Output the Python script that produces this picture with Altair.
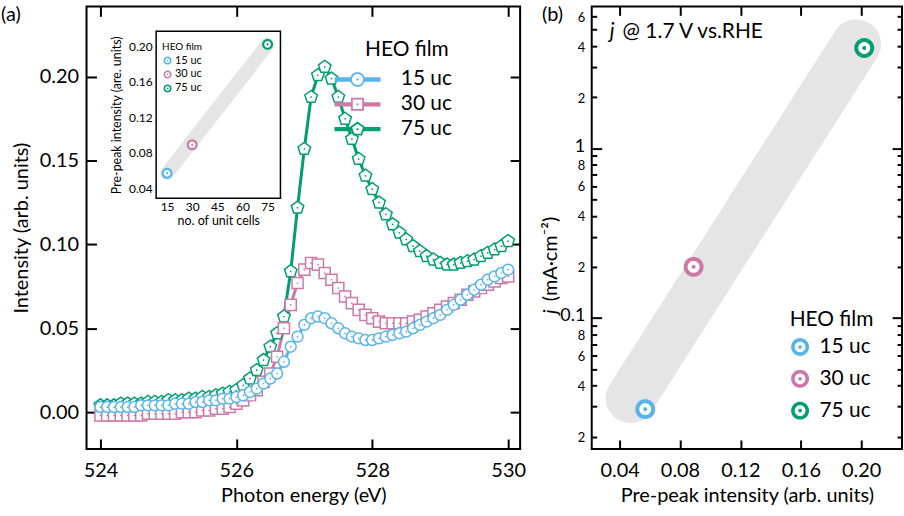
import altair as alt
import pandas as pd
import numpy as np

FONT = "Lato"

# ---------------- data ----------------
energy = [524.0, 524.1, 524.2, 524.3, 524.4, 524.5, 524.6, 524.7, 524.8, 524.9,
          525.0, 525.1, 525.2, 525.3, 525.4, 525.5, 525.6, 525.7, 525.8, 525.9,
          526.0, 526.1, 526.2, 526.3, 526.4, 526.5, 526.6, 526.7, 526.8, 526.9,
          527.0, 527.1, 527.2, 527.3, 527.4, 527.5, 527.6, 527.7, 527.8, 527.9,
          528.0, 528.1, 528.2, 528.3, 528.4, 528.5, 528.6, 528.7, 528.8, 528.9,
          529.0, 529.1, 529.2, 529.3, 529.4, 529.5, 529.6, 529.7, 529.8, 529.9,
          530.0]
int_15uc = [0.003, 0.003, 0.003, 0.003, 0.003, 0.003, 0.004, 0.004, 0.004, 0.004,
            0.004, 0.005, 0.005, 0.005, 0.006, 0.006, 0.007, 0.007, 0.008, 0.008,
            0.009, 0.010, 0.012, 0.014, 0.017, 0.020, 0.023, 0.030, 0.039, 0.045,
            0.052, 0.056, 0.057, 0.056, 0.053, 0.050, 0.047, 0.045, 0.044, 0.043,
            0.043, 0.044, 0.045, 0.046, 0.047, 0.048, 0.050, 0.052, 0.054, 0.056,
            0.058, 0.061, 0.064, 0.067, 0.070, 0.073, 0.076, 0.079, 0.081, 0.083,
            0.085]
int_30uc = [-0.002, -0.002, -0.002, -0.002, -0.002, -0.002, -0.002, -0.001, -0.001, -0.001,
            -0.001, -0.001, 0.000, 0.000, 0.000, 0.001, 0.001, 0.002, 0.002, 0.003,
            0.005, 0.007, 0.010, 0.013, 0.018, 0.023, 0.033, 0.050, 0.064, 0.077,
            0.085, 0.089, 0.088, 0.083, 0.079, 0.074, 0.069, 0.065, 0.061, 0.058,
            0.056, 0.054, 0.053, 0.053, 0.053, 0.053, 0.054, 0.055, 0.057, 0.059,
            0.061, 0.063, 0.065, 0.067, 0.070, 0.072, 0.074, 0.076, 0.078, 0.080,
            0.081]
int_75uc = [0.004, 0.004, 0.004, 0.005, 0.005, 0.005, 0.005, 0.006, 0.006, 0.006,
            0.007, 0.007, 0.007, 0.008, 0.008, 0.009, 0.009, 0.010, 0.011, 0.012,
            0.013, 0.016, 0.020, 0.025, 0.031, 0.039, 0.047, 0.057, 0.084, 0.122,
            0.157, 0.188, 0.201, 0.206, 0.199, 0.188, 0.175, 0.163, 0.151, 0.141,
            0.133, 0.125, 0.118, 0.112, 0.107, 0.103, 0.099, 0.096, 0.093, 0.091,
            0.089, 0.088, 0.088, 0.089, 0.090, 0.091, 0.093, 0.095, 0.097, 0.099,
            0.102]
films = ["15 uc", "30 uc", "75 uc"]
film_colors = ["#56B4E9", "#CC79A7", "#009E73"]

unit_cells = [15, 30, 75]
prepeak = [0.057, 0.089, 0.202]
j_current = [0.029, 0.20, 3.9]

# grey guide bands (end points)
inset_band_x = [15, 75]
inset_band_y = [0.057, 0.202]
b_band_x = [0.0472, 0.1967]
b_band_y = [0.0336, 4.11]

# axis domains and ticks
xa_dom = [523.795, 530.176]
ya_dom = [-0.022, 0.2421]
xi_dom = [8.46, 82.7]
yi_dom = [0.0288, 0.2168]
xb_dom = [0.02156, 0.227]
yb_dom = [0.0169, 6.86]
xa_ticks = [524, 526, 528, 530]
ya_ticks = [0.0, 0.05, 0.10, 0.15, 0.20]
xi_ticks = [15, 30, 45, 60, 75]
yi_ticks = [0.04, 0.08, 0.12, 0.16, 0.20]
xb_ticks = [0.04, 0.08, 0.12, 0.16, 0.20]
yb_ticks = [0.02, 0.03, 0.04, 0.05, 0.06, 0.07, 0.08, 0.09,
            0.1, 0.2, 0.3, 0.4, 0.5, 0.6, 0.7, 0.8, 0.9,
            1, 2, 3, 4, 5, 6]

# ---------------- layout ----------------
WA, HA = 436, 445
WB, HB = 312, 445
IX0, IX1, IY0, IY1 = 70, 195, 25, 193   # inset box inside panel (a), pixels


# ---------------- symbol paths ----------------
def _poly(pts, solid=True):
    area = 0.0
    n = len(pts)
    for k in range(n):
        x1, y1 = pts[k]
        x2, y2 = pts[(k + 1) % n]
        area += x1 * y2 - x2 * y1
    if (area > 0) != solid:
        pts = pts[::-1]
    return "M" + "L".join(f"{x:.3f},{y:.3f}" for x, y in pts) + "Z"


def _circle(r, n=40):
    return [(r * np.cos(2 * np.pi * k / n), r * np.sin(2 * np.pi * k / n)) for k in range(n)]


def _pent(r):
    return [(r * np.cos(np.radians(a)), r * np.sin(np.radians(a))) for a in (-90, -18, 54, 126, 198)]


def _square(h):
    return [(-h, -h), (h, -h), (h, h), (-h, h)]


def _rect(x0, x1, y0, y1):
    return [(x0, y0), (x1, y0), (x1, y1), (x0, y1)]


RING = _poly(_circle(1.0)) + _poly(_circle(0.6), False) + _poly(_circle(0.2, 20))
PENT = _poly(_pent(1.0))


def _legend_path(outer, inner, bar_end):
    return (_poly(_rect(-3.3, -bar_end, -0.31, 0.31)) + _poly(_rect(bar_end, 3.3, -0.31, 0.31))
            + _poly(outer) + _poly(inner, False) + _poly(_circle(0.16, 16)))


LEG_PATHS = [_legend_path(_circle(1.05), _circle(0.8), 0.92),
             _legend_path(_square(0.93), _square(0.68), 0.8),
             _legend_path(_pent(1.1), _pent(0.8), 0.8)]


# ---------------- axis helpers ----------------
def lab_axis(orient, values, fmt, title, label_size=20, title_size=20,
             label_pad=8, title_pad=6, offset=0, **kw):
    args = dict(orient=orient, values=values, title=title, tickSize=0, domain=False,
                grid=False, labelFontSize=label_size, titleFontSize=title_size,
                labelPadding=label_pad, titlePadding=title_pad, labelColor="black",
                titleColor="black", titleFontWeight="normal", labelFont=FONT,
                titleFont=FONT, labelOverlap=False, labelFlush=False, offset=offset)
    if fmt:
        args["format"] = fmt
    args.update(kw)
    return alt.Axis(**args)


def tick_axis(orient, offset, values, size, width=2):
    return alt.Axis(orient=orient, offset=offset, values=values, labels=False, title=None,
                    domain=False, grid=False, tickSize=size, tickWidth=width,
                    tickColor="black")


color_scale = alt.Scale(domain=films, range=film_colors)

# ======================= panel (a) main =======================
spec = pd.DataFrame({
    "energy": energy * 3,
    "intensity": int_15uc + int_30uc + int_75uc,
    "film": [films[0]] * len(energy) + [films[1]] * len(energy) + [films[2]] * len(energy),
})
xa = alt.Scale(domain=xa_dom, nice=False, zero=False)
ya = alt.Scale(domain=ya_dom, nice=False, zero=False)
enc_a = dict(x=alt.X("energy:Q", scale=xa, axis=None), y=alt.Y("intensity:Q", scale=ya, axis=None))

line_layers = []
for k, film in enumerate(films):
    sub = spec[spec["film"] == film]
    if k == 0:
        enc = dict(
            x=alt.X("energy:Q", scale=xa,
                    axis=lab_axis("bottom", xa_ticks, "d", "Photon energy (eV)", label_pad=12, title_pad=5)),
            y=alt.Y("intensity:Q", scale=ya,
                    axis=lab_axis("left", ya_ticks, ".2f", "Intensity (arb. units)", label_pad=8, title_pad=8)))
    else:
        enc = enc_a
    line_layers.append(alt.Chart(sub).mark_line(strokeWidth=3, color=film_colors[k],
                                                strokeJoin="round").encode(**enc))

marks = []
for film, shape, size in [("75 uc", PENT, 175), ("30 uc", "square", 125), ("15 uc", "circle", 120)]:
    c = film_colors[films.index(film)]
    sub = spec[spec["film"] == film]
    marks.append(alt.Chart(sub).mark_point(shape=shape, size=size, filled=False, fill="white",
                                           stroke=c, strokeWidth=1.5, opacity=1).encode(**enc_a))
    marks.append(alt.Chart(sub).mark_point(shape="circle", size=3, filled=True, color=c,
                                           opacity=1).encode(**enc_a))

leg_main = alt.Legend(title="HEO film", orient="none", legendX=280, legendY=33,
                      titleFontSize=21, titleFont=FONT, titleFontWeight="normal", titleColor="black",
                      labelFontSize=21, labelFont=FONT, labelColor="black",
                      symbolSize=196, symbolStrokeWidth=0, symbolOffset=-18, labelOffset=33,
                      rowPadding=3, titlePadding=9, padding=0)
legend_main = alt.Chart(spec).transform_filter("false").mark_point(
    filled=True, opacity=1, size=196).encode(
    color=alt.Color("film:N", scale=color_scale, legend=leg_main),
    shape=alt.Shape("film:N", scale=alt.Scale(domain=films, range=LEG_PATHS), legend=leg_main),
    **enc_a,
)

ticks_a1 = alt.Chart(spec).mark_point(opacity=0).encode(
    x=alt.X("energy:Q", scale=xa, axis=tick_axis("top", -HA, xa_ticks, 10)),
    y=alt.Y("intensity:Q", scale=ya, axis=tick_axis("right", -WA, ya_ticks, 10)),
)
ticks_a2 = alt.Chart(spec).mark_point(opacity=0).encode(
    x=alt.X("energy:Q", scale=xa, axis=tick_axis("bottom", -HA, xa_ticks, 10)),
    y=alt.Y("intensity:Q", scale=ya, axis=tick_axis("left", -WA, ya_ticks, 10)),
)
lab_a = alt.Chart(pd.DataFrame({"t": ["(a)"]})).mark_text(
    align="left", baseline="top", fontSize=20, font=FONT, color="black").encode(
    text="t:N", x=alt.value(-86), y=alt.value(-1))

main_group = alt.layer(*line_layers, *marks, legend_main, ticks_a1, ticks_a2, lab_a).resolve_axis(
    x="independent", y="independent")

# ======================= panel (a) inset =======================
inset_df = pd.DataFrame({"uc": unit_cells, "pp": prepeak, "film": films})
xi = alt.Scale(domain=xi_dom, range=[IX0, IX1], nice=False, zero=False)
yi = alt.Scale(domain=yi_dom, range=[IY1, IY0], nice=False, zero=False)
frame_df = pd.DataFrame({"x0": [xi_dom[0]], "x1": [xi_dom[1]], "y0": [yi_dom[0]], "y1": [yi_dom[1]]})

frame = alt.Chart(frame_df).mark_rect(fill="white", stroke="black", strokeWidth=1.5).encode(
    x=alt.X("x0:Q", scale=xi,
            axis=lab_axis("bottom", xi_ticks, "d", "no. of unit cells", label_size=12,
                          title_size=12.5, label_pad=3, title_pad=2, offset=IY1 - HA)),
    x2="x1",
    y=alt.Y("y0:Q", scale=yi,
            axis=lab_axis("left", yi_ticks, ".2f", "Pre-peak intensity (are. units)", label_size=12,
                          title_size=12.5, label_pad=4, title_pad=5, offset=-IX0)),
    y2="y1",
)
enc_i = dict(x=alt.X("uc:Q", scale=xi, axis=None), y=alt.Y("pp:Q", scale=yi, axis=None))
band_i = alt.Chart(pd.DataFrame({"uc": inset_band_x, "pp": inset_band_y})).mark_trail(
    color="#e5e5e5", opacity=1).encode(size=alt.value(14), **enc_i)
disc_i = alt.Chart(inset_df).mark_circle(color="white", size=85, opacity=1).encode(**enc_i)
leg_inset = alt.Legend(title="HEO film", orient="none", legendX=76, legendY=36,
                       symbolType=RING, symbolSize=64, symbolStrokeWidth=0,
                       titleFontSize=10, titleFont=FONT, titleFontWeight="normal", titleColor="black",
                       labelFontSize=11, labelFont=FONT, labelColor="black",
                       titlePadding=3, rowPadding=2, labelOffset=2, symbolOffset=0, padding=0)
ring_i = alt.Chart(inset_df).mark_point(filled=True, shape=RING, size=121, opacity=1).encode(
    color=alt.Color("film:N", scale=color_scale, legend=leg_inset), **enc_i)
ticks_i1 = alt.Chart(inset_df).mark_point(opacity=0).encode(
    x=alt.X("uc:Q", scale=xi, axis=tick_axis("top", -IY1, xi_ticks, 5, 1.5)),
    y=alt.Y("pp:Q", scale=yi, axis=tick_axis("right", IX0 - WA, yi_ticks, 5, 1.5)),
)
ticks_i2 = alt.Chart(inset_df).mark_point(opacity=0).encode(
    x=alt.X("uc:Q", scale=xi, axis=tick_axis("bottom", IY0 - HA, xi_ticks, 5, 1.5)),
    y=alt.Y("pp:Q", scale=yi, axis=tick_axis("left", -IX1, yi_ticks, 5, 1.5)),
)
inset_group = alt.layer(frame, band_i, disc_i, ring_i, ticks_i1, ticks_i2).resolve_axis(
    x="independent", y="independent")

panel_a = alt.layer(main_group, inset_group).resolve_scale(
    x="independent", y="independent", color="independent", shape="independent"
).resolve_legend(color="independent", shape="independent").properties(width=WA, height=HA)

# ======================= panel (b) =======================
b_df = pd.DataFrame({"pp": prepeak, "j": j_current, "film": films})
xb = alt.Scale(domain=xb_dom, nice=False, zero=False)
yb = alt.Scale(type="log", domain=yb_dom, nice=False)
enc_b = dict(x=alt.X("pp:Q", scale=xb, axis=None), y=alt.Y("j:Q", scale=yb, axis=None))

major_test = "datum.value == 1 || datum.value == 0.1"
yb_label_expr = ("datum.value == 1 ? '1' : datum.value == 0.1 ? '0.1' : "
                 "(indexof([2, 4, 6, 8], round(datum.value / pow(10, floor(log(datum.value) / LN10 + 1e-9)))) >= 0 ? "
                 "format(round(datum.value / pow(10, floor(log(datum.value) / LN10 + 1e-9))), 'd') : '')")

band_b = alt.Chart(pd.DataFrame({"pp": b_band_x, "j": b_band_y})).mark_trail(
    color="#e5e5e5", opacity=1).encode(size=alt.value(50), **enc_b)
disc_b = alt.Chart(b_df).mark_circle(color="white", size=255, opacity=1).encode(**enc_b)
leg_b = alt.Legend(title="HEO film", orient="none", legendX=199, legendY=304,
                   symbolType=RING, symbolSize=324, symbolStrokeWidth=0,
                   titleFontSize=21, titleFont=FONT, titleFontWeight="normal", titleColor="black",
                   labelFontSize=21, labelFont=FONT, labelColor="black",
                   titlePadding=7, rowPadding=10, labelOffset=9, symbolOffset=0, padding=0)
ring_b = alt.Chart(b_df).mark_point(filled=True, shape=RING, size=400, opacity=1).encode(
    x=alt.X("pp:Q", scale=xb,
            axis=lab_axis("bottom", xb_ticks, ".2f", "Pre-peak intensity (arb. units)",
                          label_pad=12, title_pad=5)),
    y=alt.Y("j:Q", scale=yb,
            axis=lab_axis("left", yb_ticks, None, None, label_pad=7,
                          labelExpr=yb_label_expr,
                          labelFontSize={"condition": {"test": major_test, "value": 18}, "value": 13},
                          labelOffset={"condition": {"test": major_test, "value": -2}, "value": 1})),
    color=alt.Color("film:N", scale=color_scale, legend=leg_b),
)
ysize = {"condition": {"test": major_test, "value": 10}, "value": 5}
ticks_b1 = alt.Chart(b_df).mark_point(opacity=0).encode(
    x=alt.X("pp:Q", scale=xb, axis=tick_axis("top", -HB, xb_ticks, 9)),
    y=alt.Y("j:Q", scale=yb, axis=tick_axis("right", -WB, yb_ticks, ysize)),
)
ticks_b2 = alt.Chart(b_df).mark_point(opacity=0).encode(
    x=alt.X("pp:Q", scale=xb, axis=tick_axis("bottom", -HB, xb_ticks, 9)),
    y=alt.Y("j:Q", scale=yb, axis=tick_axis("left", -WB, yb_ticks, ysize)),
)


def _txt(t, x, y, size=20, style="normal", angle=0, align="left", baseline="top"):
    return alt.Chart(pd.DataFrame({"t": [t]})).mark_text(
        align=align, baseline=baseline, fontSize=size, font=FONT, fontStyle=style,
        angle=angle, color="black").encode(text="t:N", x=alt.value(x), y=alt.value(y))


texts_b = [
    _txt("(b)", -50, -1),
    _txt("j", 18, 32, 21, "italic", baseline="alphabetic"),
    _txt("@ 1.7 V vs.RHE", 31, 32, 21, baseline="alphabetic"),
    _txt("j", -41, 307, 20, "italic", angle=270, align="center", baseline="middle"),
    _txt("(mA\u00b7cm\u207b\u00b2)", -41, 254, 20, angle=270, align="center", baseline="middle"),
]

panel_b = alt.layer(band_b, disc_b, ring_b, ticks_b1, ticks_b2, *texts_b).resolve_axis(
    x="independent", y="independent").properties(width=WB, height=HB)

chart = alt.hconcat(panel_a, panel_b, spacing=13).resolve_scale(
    color="independent", shape="independent"
).resolve_legend(color="independent", shape="independent").properties(
    padding={"left": 0, "top": 3, "right": 0, "bottom": 5}
).configure(font=FONT).configure_view(stroke="black", strokeWidth=2)

chart.save("out.html", embed_options={"renderer": "svg", "actions": False})
